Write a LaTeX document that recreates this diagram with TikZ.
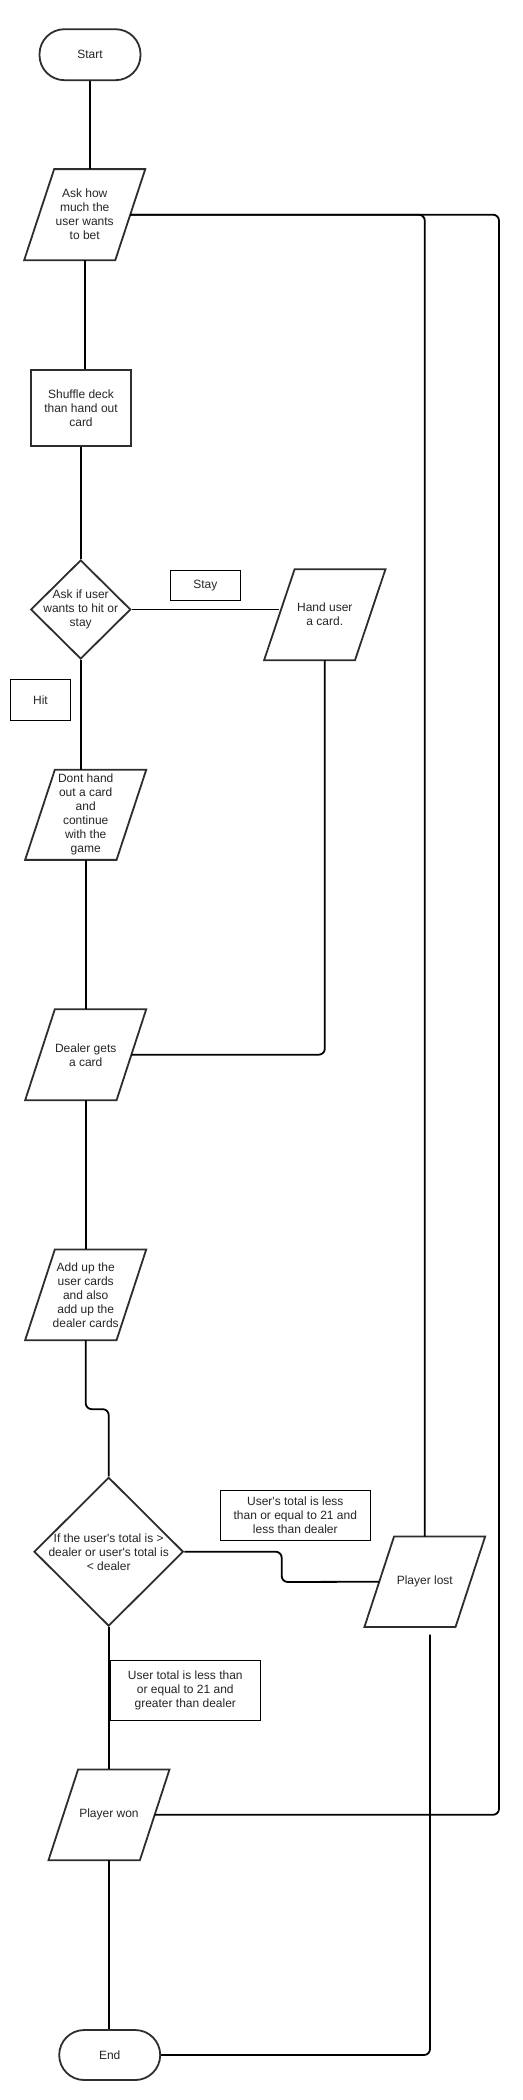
\documentclass[tikz,border=0pt]{standalone}
\usepackage{fontspec}
\setmainfont{Liberation Sans}
\usetikzlibrary{calc,shapes.geometric}
\tikzset{
  shapeline/.style={draw=black!82, line width=1.8pt},
  ptext/.style={inner sep=0pt, align=center, font=\fontsize{12}{14}\selectfont, text=black!85},
  term/.style={ptext, shapeline, rounded corners=25pt},
  procbox/.style={ptext, shapeline},
  lbl/.style={ptext, draw=black, line width=0.9pt},
  conn/.style={draw=black, line width=1.8pt, rounded corners=6pt},
}
\newcommand{\pgram}[6]{%
  \node[ptext, minimum width=#3, minimum height=#4] (#1) at (#2) {#6};
  \draw[shapeline, line join=miter] (#1.south west) -- ($(#1.north west)+(#5,0)$) -- (#1.north east) -- ($(#1.south east)-(#5,0)$) -- cycle;
  \coordinate (#1-r) at ($(#1.east)-(#5/2,0)$);
  \coordinate (#1-l) at ($(#1.west)+(#5/2,0)$);
}
\newcommand{\sq}{\textquotesingle}
\begin{document}
\begin{tikzpicture}[x=1pt,y=-1pt]
\fill[white] (0,0) rectangle (522,2100);
\useasboundingbox (0,0) rectangle (522,2100);

% nodes
\node[term, minimum width=101, minimum height=51] (start) at (90,54.7) {Start};
\pgram{ask}{84.7,214.7}{120.7}{90.7}{30}{Ask how\\much the\\user wants\\ to bet}
\node[procbox, minimum width=100.6, minimum height=76] (shuffle) at (81,408) {Shuffle deck\\than hand out\\card};
\node[shapeline, diamond, minimum width=100, minimum height=99, inner sep=0pt] (hitq) at (80.7,609.5) {};
\node[ptext] (hitqtext) at (hitq.center) {Ask if user\\wants to hit or\\stay};
\pgram{hand}{324.8,614.7}{121}{90.7}{30.5}{Hand user\\a card.}
\pgram{dont}{85.7,814.8}{120.7}{89.7}{29.7}{Dont hand\\out a card\\and\\continue\\with the\\game}
\pgram{dealer}{85.7,1054.7}{120.7}{90.7}{29.7}{Dealer gets\\a card}
\pgram{add}{85.7,1294.8}{120.7}{90.3}{29.7}{Add up the\\user cards\\and also\\add up the\\dealer cards}
\node[shapeline, diamond, minimum width=149.3, minimum height=148.7, inner sep=0pt] (cmp) at (108.7,1551.7) {};
\node[ptext] (cmptext) at (cmp.center) {If the user\sq s total is >\\dealer or user\sq s total is\\< dealer};
\pgram{lost}{424.8,1581.7}{120.3}{90}{29.6}{Player lost}
\pgram{won}{109,1814.8}{120.6}{90.3}{29.6}{Player won}
\node[term, minimum width=101, minimum height=50] (end) at (109.7,2055) {End};

% labels
\node[lbl, minimum width=70, minimum height=30] (stay) at (205.3,585.3) {Stay};
\node[lbl, minimum width=60.4, minimum height=40.3] (hit) at (40.5,700) {Hit};
\node[lbl, minimum width=150, minimum height=50] (lesslbl) at (295.3,1515.3) {User\sq s total is less\\than or equal to 21 and\\less than dealer};
\node[lbl, minimum width=150, minimum height=60] (greatlbl) at (185.3,1690.2) {User total is less than\\or equal to 21 and\\greater than dealer};

% helper coordinates
\coordinate (j1) at (281.7,1582);
\coordinate (c499) at (499,1814.8);
\coordinate (lostout) at ($(lost.south)+(5.2,7.6)$);

% connectors
\draw[conn] (start.south) -- (start.south |- ask.north);
\draw[conn] (ask.south) -- (ask.south |- shuffle.north);
\draw[conn] (shuffle.south) -- (shuffle.south |- hitq.north);
\draw[conn] (hitq.east) -- (hitq.east -| hand-l);
\draw[conn] (hand.south) |- (dealer-r);
\draw[conn] (hitq.south) -- (hitq.south |- dont.north);
\draw[conn] (dont.south) -- (dont.south |- dealer.north);
\draw[conn] (dealer.south) -- (dealer.south |- add.north);
\draw[conn] (add.south) -- ($(add.south)+(0,69)$) -| (cmp.north);
\draw[conn] (cmp.east) -| (j1) -- (lost-l);
\draw[conn] (ask-r) -| (lost.north);
\draw[conn] (won-r) -- (c499) -- (c499 |- ask-r) -- (ask-r);
\draw[conn] (lostout) |- (end.east);
\draw[conn] (cmp.south) -- (cmp.south |- won.north);
\draw[conn] (won.south) -- (won.south |- end.north);
\end{tikzpicture}
\end{document}
